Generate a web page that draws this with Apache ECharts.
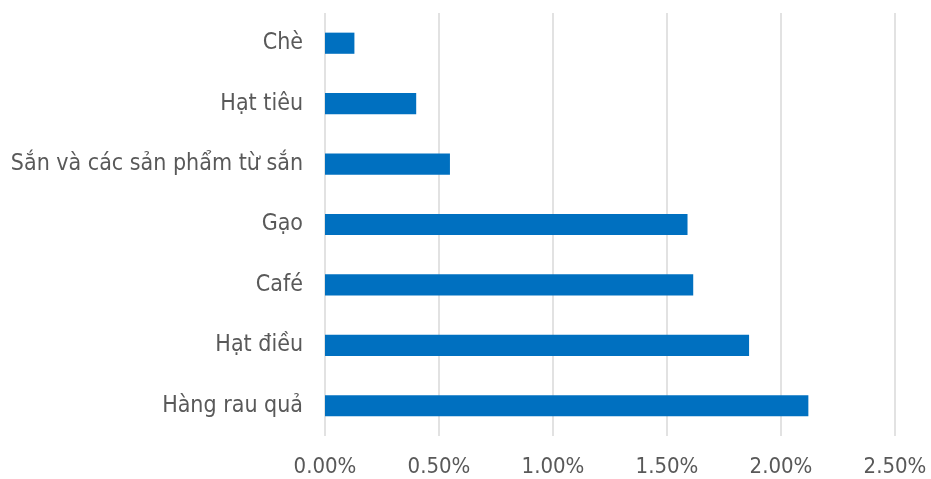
<!DOCTYPE html>
<html><head><meta charset="utf-8">
<script src="https://cdn.jsdelivr.net/npm/echarts@6/dist/echarts.min.js"></script>
<style>html,body{margin:0;padding:0;background:#fff}#c{width:931px;height:479px}</style>
</head><body><div id="c"></div>
<script>
const categories = ["Hàng rau quả", "Hạt điều", "Café", "Gạo", "Sắn và các sản phẩm từ sắn", "Hạt tiêu", "Chè"];
const values = [2.12, 1.86, 1.615, 1.59, 0.548, 0.40, 0.129];
const xTicks = [0, 0.5, 1.0, 1.5, 2.0, 2.5];

const chart = echarts.init(document.getElementById('c'));
chart.setOption({
  animation: false,
  grid: { left: 325, right: 36, top: 13, bottom: 43, containLabel: false },
  xAxis: {
    type: 'value', min: xTicks[0], max: xTicks[xTicks.length - 1], interval: 0.5,
    axisLine: { show: false }, axisTick: { show: false },
    splitLine: { lineStyle: { color: '#d9d9d9', width: 1.5 } },
    axisLabel: { formatter: v => v.toFixed(2) + '%', color: '#595959', fontSize: 22, fontFamily: 'DejaVu Sans Condensed', margin: 20 }
  },
  yAxis: {
    type: 'category', data: categories,
    axisLine: { show: false }, axisTick: { show: false },
    axisLabel: { color: '#595959', fontSize: 23, fontFamily: 'DejaVu Sans Condensed', margin: 22 }
  },
  series: [{
    type: 'bar', data: values, barCategoryGap: '65%',
    itemStyle: { color: '#0070c0' }
  }]
});
</script></body></html>
